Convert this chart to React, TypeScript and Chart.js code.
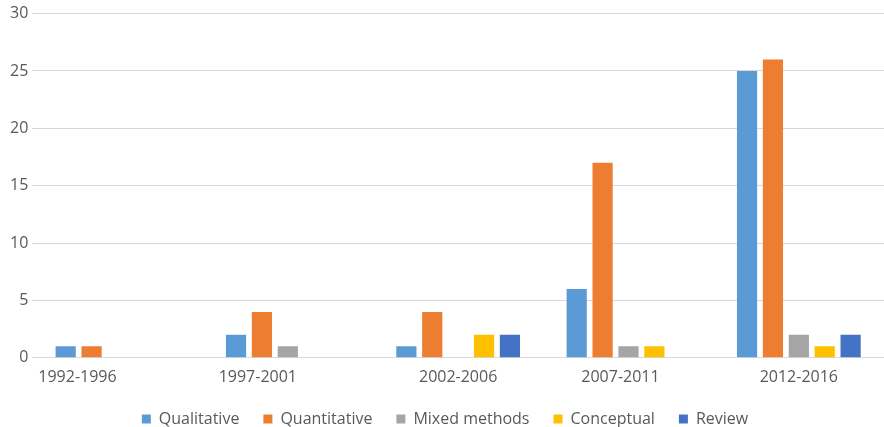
import React, { useEffect, useRef } from "react";
import { Chart, registerables } from "chart.js";

Chart.register(...registerables);

const categories = ["1992-1996", "1997-2001", "2002-2006", "2007-2011", "2012-2016"];
const qualitative = [1, 2, 1, 6, 25];
const quantitative = [1, 4, 4, 17, 26];
const mixedMethods = [0, 1, 0, 1, 2];
const conceptual = [0, 0, 2, 1, 1];
const review = [0, 0, 2, 0, 2];

// style: horizontal shift of each category label (reference labels are not centred on groups)
const LABEL_SHIFT = [-40, -30, 0, -8, 0];
const FONT = "'Open Sans', 'Liberation Sans', sans-serif";
const TEXT_COLOR = "#595959";
const GRID_COLOR = "#d9d9d9";

const xLabelPlugin = {
  id: "xLabelPlugin",
  afterDraw(chart: any) {
    const { ctx } = chart;
    const xs = chart.scales.x;
    ctx.save();
    ctx.font = `16px ${FONT}`;
    ctx.fillStyle = TEXT_COLOR;
    ctx.textAlign = "center";
    ctx.textBaseline = "middle";
    categories.forEach((c, i) => {
      const x = xs.getPixelForValue(i) + LABEL_SHIFT[i];
      ctx.fillText(c, x, xs.top + 19.5);
    });
    ctx.restore();
  },
};

export default function App() {
  const ref = useRef<HTMLCanvasElement>(null);
  useEffect(() => {
    if (!ref.current) return;
    const ds = (label: string, data: number[], color: string) => ({
      label,
      data,
      backgroundColor: color,
      borderWidth: 0,
      categoryPercentage: 0.76,
      barPercentage: 0.78,
    });
    const chart = new Chart(ref.current, {
      type: "bar",
      data: {
        labels: categories,
        datasets: [
          ds("Qualitative", qualitative, "#5B9BD5"),
          ds("Quantitative", quantitative, "#ED7D31"),
          ds("Mixed methods", mixedMethods, "#A5A5A5"),
          ds("Conceptual", conceptual, "#FFC000"),
          ds("Review", review, "#4472C4"),
        ],
      },
      options: {
        responsive: false,
        animation: false,
        layout: { padding: { left: 6, right: 0, top: 3, bottom: 0 } },
        plugins: {
          tooltip: { enabled: false },
          legend: {
            position: "bottom",
            maxHeight: 40,
            labels: {
              boxWidth: 9,
              boxHeight: 9,
              padding: 24,
              color: TEXT_COLOR,
              font: { family: FONT, size: 16 },
            },
          },
        },
        scales: {
          x: {
            grid: { display: false, drawTicks: false },
            border: { display: true, color: GRID_COLOR, width: 1 },
            ticks: {
              color: "rgba(0,0,0,0)",
              padding: 5,
              font: { family: FONT, size: 16 },
            },
          },
          y: {
            min: 0,
            max: 30,
            ticks: {
              stepSize: 5,
              padding: 4,
              color: TEXT_COLOR,
              font: { family: FONT, size: 16 },
            },
            grid: { color: GRID_COLOR, drawTicks: false },
            border: { display: false },
          },
        },
      },
      plugins: [xLabelPlugin],
    });
    return () => chart.destroy();
  }, []);
  return (
    <div style={{ position: "absolute", left: 0, top: 0, width: 884, height: 427, background: "#fff" }}>
      <canvas ref={ref} width={884} height={427} style={{ display: "block" }} />
    </div>
  );
}
